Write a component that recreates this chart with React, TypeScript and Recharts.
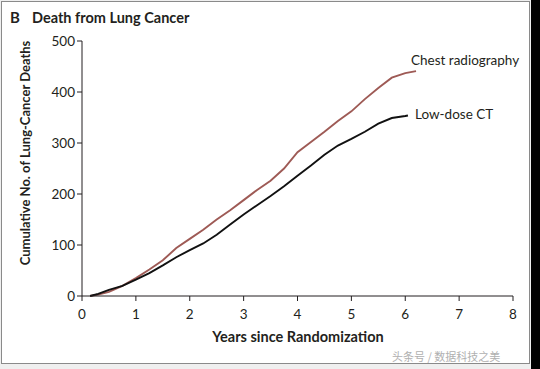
import { CSSProperties } from 'react'
import { Line, LineChart, XAxis, YAxis } from 'recharts'

// Cumulative lung-cancer deaths
const chestYears = [0.15, 0.3, 0.5, 0.75, 1.0, 1.25, 1.5, 1.75, 2.0, 2.25, 2.5, 2.75, 3.0, 3.25, 3.5, 3.75, 4.0, 4.25, 4.5, 4.75, 5.0, 5.25, 5.5, 5.75, 6.0, 6.2]
const chestDeaths = [0, 3, 8, 20, 35, 52, 70, 94, 112, 130, 150, 168, 188, 208, 226, 250, 282, 302, 322, 343, 362, 386, 408, 428, 437, 441]
const ctYears = [0.15, 0.3, 0.5, 0.75, 1.0, 1.25, 1.5, 1.75, 2.0, 2.25, 2.5, 2.75, 3.0, 3.25, 3.5, 3.75, 4.0, 4.25, 4.5, 4.75, 5.0, 5.25, 5.5, 5.75, 6.0, 6.05]
const ctDeaths = [0, 4, 12, 20, 32, 45, 60, 76, 90, 103, 120, 140, 160, 178, 196, 215, 236, 256, 277, 295, 308, 322, 338, 349, 353, 354]

const xTicks = [0, 1, 2, 3, 4, 5, 6, 7, 8]
const yTicks = [0, 100, 200, 300, 400, 500]

const chestData = chestYears.map((year, i) => ({ year, deaths: chestDeaths[i] }))
const ctData = ctYears.map((year, i) => ({ year, deaths: ctDeaths[i] }))

const FONT = 'Lato, "Open Sans", sans-serif'
const INK = '#231f20'

const sText: CSSProperties = {
  position: 'absolute',
  fontFamily: FONT,
  color: INK,
  whiteSpace: 'nowrap',
  lineHeight: 1,
}

export default function App() {
  return (
    <div style={{ position: 'absolute', left: 0, top: 0, width: 540, height: 369, background: '#000', overflow: 'hidden' }}>
      <div style={{ position: 'absolute', left: 0, top: 0, width: 531, height: 369, background: '#efefef' }}/>
      <div style={{ position: 'absolute', left: 1, top: 1, width: 527, height: 361, background: '#fff', border: '1.5px solid #8a8a8a' }}/>
      <LineChart width={540} height={369} data={chestData}
                 margin={{ top: 41, right: 27, bottom: 0, left: 0 }}
                 style={{ position: 'absolute', left: 0, top: 0 }}>
        <XAxis type="number" dataKey="year" domain={[0, 8]} ticks={xTicks} height={73}
               allowDataOverflow interval={0}
               stroke={INK} tickSize={5} tickMargin={8}
               tick={{ fill: INK, fontSize: 13.5, fontFamily: FONT }}/>
        <YAxis type="number" domain={[0, 500]} ticks={yTicks} width={82}
               stroke={INK} tickSize={5} tickMargin={2}
               tick={{ fill: INK, fontSize: 13.5, fontFamily: FONT }}/>
        <Line data={chestData} dataKey="deaths" type="linear" stroke="#9e5a55" strokeWidth={1.9}
              dot={false} isAnimationActive={false}/>
        <Line data={ctData} dataKey="deaths" type="linear" stroke="#111" strokeWidth={1.9}
              dot={false} isAnimationActive={false}/>
      </LineChart>
      <div style={{ ...sText, left: 10, top: 10, fontSize: 15, fontWeight: 700 }}>B</div>
      <div style={{ ...sText, left: 32, top: 11, fontSize: 14.5, fontWeight: 700 }}>Death from Lung Cancer</div>
      <div style={{ ...sText, left: 25, top: 153, fontSize: 13, fontWeight: 700,
        transform: 'translate(-50%, -50%) rotate(-90deg)' }}>Cumulative No. of Lung-Cancer Deaths</div>
      <div style={{ ...sText, left: 298, top: 337, fontSize: 14.5, fontWeight: 700,
        transform: 'translate(-50%, -50%)' }}>Years since Randomization</div>
      <div style={{ ...sText, left: 411, top: 54, fontSize: 13.5 }}>Chest radiography</div>
      <div style={{ ...sText, left: 415, top: 108, fontSize: 13.5 }}>Low-dose CT</div>
      <div style={{ ...sText, left: 392, top: 351, fontSize: 11, color: '#b0b0b0',
        fontFamily: '"Noto Sans CJK SC", sans-serif' }}>头条号 / 数据科技之美</div>
    </div>
  )
}
